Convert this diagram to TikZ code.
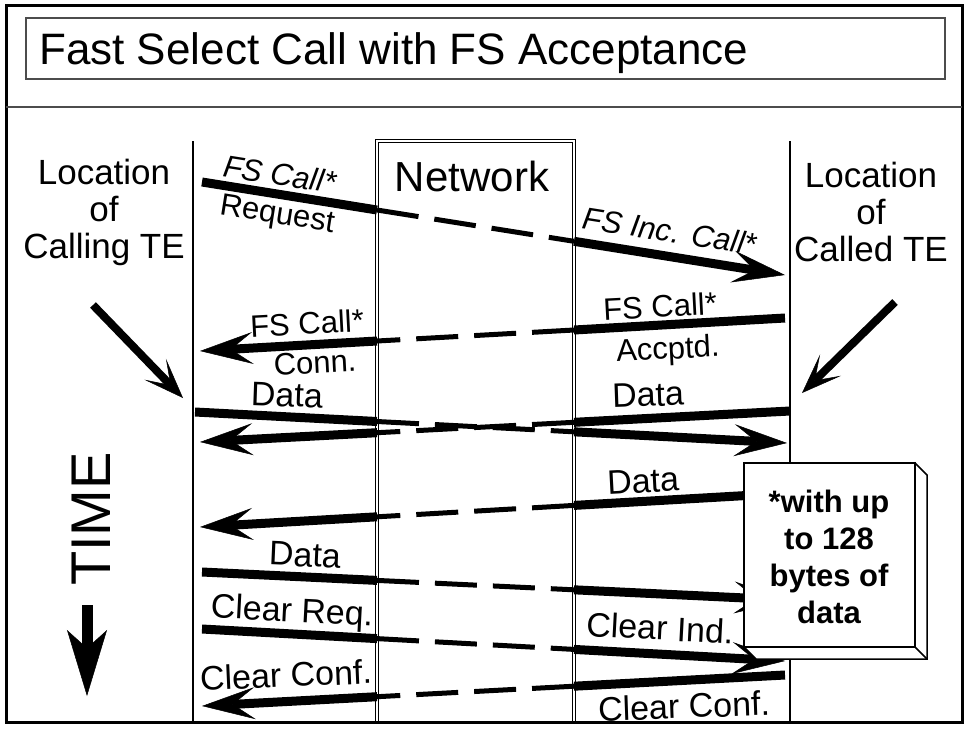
\documentclass[tikz,border=0pt]{standalone}
\usepackage{fontspec}
\setmainfont{Liberation Sans}
\usetikzlibrary{arrows.meta}
\begin{document}
\begin{tikzpicture}[x=1pt,y=-1pt,
  thickln/.style={line width=9pt},
  thickarr/.style={line width=9pt,-{Stealth[length=53pt,width=32pt,inset=22pt,line width=0.5pt]}},
  dashln/.style={line width=5pt,dash pattern=on 42pt off 16pt},
  diagarr/.style={line width=8pt,-{Stealth[length=40pt,width=30pt,inset=22pt,line width=0.5pt]}},
  lblfs/.style={font=\fontsize{31}{31}\selectfont, inner sep=0pt},
  lblbig/.style={font=\fontsize{34}{34}\selectfont, inner sep=0pt},
  loc/.style={font=\fontsize{35}{37}\selectfont, align=center, inner sep=0pt},
  lifeline/.style={line width=2pt},
  frameline/.style={draw=black!70, line width=1.5pt}]
\useasboundingbox (0,0) rectangle (968,729);
% frame
\draw[line width=3pt] (6,5) rectangle (962,722);
\draw[frameline] (26,18) rectangle (945,79);
\draw[frameline] (6,107) -- (962,107);
\node[anchor=base west, inner sep=0pt, font=\fontsize{44}{44}\selectfont] (title) at (39,64) {Fast Select Call with FS Acceptance};
% lifelines and network
\coordinate (llt) at (193,141); \coordinate (llb) at (193,721);
\coordinate (rlt) at (790,141); \coordinate (rlb) at (790,721);
\draw[lifeline] (llt) -- (llb);
\draw[lifeline] (rlt) -- (rlb);
\draw[double, double distance=2pt, line width=0.7pt] (377,721) -- (377,141) -- (574,141) -- (574,721);
\node[font=\fontsize{42}{42}\selectfont, inner sep=0pt] (net) at (472,176) {Network};
\node[loc] (calling) at (104,212) {Location\\of\\Calling TE};
\node[loc] (called) at (871,212) {Location\\of\\Called TE};
% diag arrows
\coordinate (dl1) at (93,305); \coordinate (dl2) at (183,398);
\coordinate (dr1) at (895,302); \coordinate (dr2) at (802,393);
\draw[diagarr] (dl1) -- (dl2);
\draw[diagarr] (dr1) -- (dr2);
% TIME
\node[rotate=90, font=\fontsize{56}{56}\selectfont, inner sep=0pt] (time) at (91,519) {TIME};
\coordinate (t1) at (87,605); \coordinate (t2) at (87,696);
\draw[line width=11pt,-{Stealth[length=66pt,width=40pt,inset=18pt,line width=0.5pt]}] (t1) -- (t2);
% message arrows
\coordinate (a1) at (202,182); \coordinate (b1) at (377,210); \coordinate (c1) at (574,241.3); \coordinate (d1) at (785,275);
\coordinate (a2) at (785,318); \coordinate (b2) at (574,330); \coordinate (c2) at (377,341); \coordinate (d2) at (200,351);
\coordinate (a3) at (195,412); \coordinate (b3) at (377,421.5); \coordinate (c3) at (574,431.8); \coordinate (d3) at (787,443);
\coordinate (a4) at (790,411); \coordinate (b4) at (574,422.3); \coordinate (c4) at (377,432.7); \coordinate (d4) at (200,442);
\coordinate (a5) at (790,493); \coordinate (b5) at (574,505.4); \coordinate (c5) at (377,516.8); \coordinate (d5) at (200,527);
\coordinate (a6) at (202,572); \coordinate (b6) at (377,580.4); \coordinate (c6) at (574,589.8); \coordinate (d6) at (787,600);
\coordinate (a7) at (202,629); \coordinate (b7) at (377,638.6); \coordinate (c7) at (574,649.4); \coordinate (d7) at (785,661);
\coordinate (a8) at (785,675); \coordinate (b8) at (574,686.2); \coordinate (c8) at (377,696.7); \coordinate (d8) at (202,706);
\foreach \i in {1,...,8}{
  \draw[thickln] (a\i) -- (b\i);
  \draw[dashln] (b\i) -- (c\i);
  \draw[thickarr] (c\i) -- (d\i);
}
% labels
\node[lblfs, rotate=-9] (l1a) at (280,174) {\itshape FS Call*};
\node[lblfs, rotate=-9] (l1b) at (277,216) {Request};
\node[lblfs, rotate=-9] (l1c) at (670,231) {\itshape FS Inc. Call*};
\node[lblfs, rotate=3] (l2a) at (660,306) {FS Call*};
\node[lblfs, rotate=3] (l2b) at (668,351) {Accptd.};
\node[lblfs, rotate=3] (l2c) at (307,323) {FS Call*};
\node[lblfs, rotate=3] (l2d) at (315,363) {Conn.};
\node[lblbig, rotate=-2] (l3) at (287,395) {Data};
\node[lblbig, rotate=2] (l4) at (648,395) {Data};
\node[lblbig, rotate=3] (l5) at (643,481) {Data};
\node[lblbig, rotate=-2.5] (l6) at (305,555) {Data};
\node[lblbig, rotate=-3] (l7a) at (292,613) {Clear Req.};
\node[lblbig, rotate=-3] (l7b) at (660,628) {Clear Ind.};
\node[lblbig, rotate=2.5] (l8a) at (286,675) {Clear Conf.};
\node[lblbig, rotate=2] (l8b) at (684,706) {Clear Conf.};
% note box
\filldraw[fill=white, line width=1.5pt] (915,463) -- (927,475) -- (927,659) -- (756,659) -- (744,647) -- cycle;
\draw[line width=1.5pt] (915,647) -- (927,659);
\draw[fill=white, line width=1.5pt] (744,463) rectangle (915,647);
\node[font=\fontsize{31}{37}\selectfont\bfseries, align=center, inner sep=0pt] (note) at (829,557) {*with up\\to 128\\bytes of\\data};
\end{tikzpicture}
\end{document}
